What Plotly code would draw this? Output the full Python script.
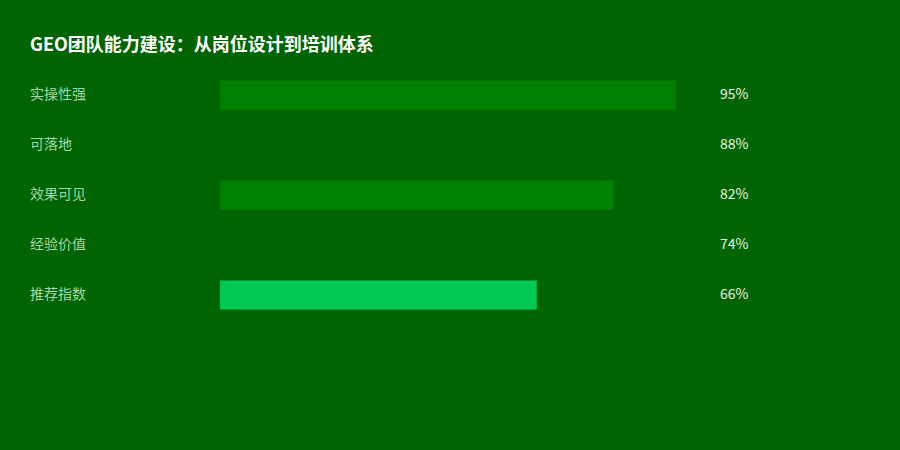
import plotly.graph_objects as go

# Data
categories = ["实操性强", "可落地", "效果可见", "经验价值", "推荐指数"]
values = [95, 88, 82, 74, 66]
bar_colors = ["#008000", "#006400", "#008000", "#006400", "#00C853"]

BG = "#006400"
FONT = "Noto Sans CJK SC, Noto Sans, sans-serif"

fig = go.Figure()

fig.add_trace(go.Bar(
    x=values,
    y=categories,
    orientation="h",
    marker=dict(color=bar_colors, line=dict(width=0)),
    width=0.58,
    hoverinfo="skip",
))

# left-side category labels and right-side percentages
for cat, val in zip(categories, values):
    fig.add_annotation(
        x=-192 / 480, y=cat, xref="paper", yref="y", yshift=2,
        text=cat, showarrow=False, xanchor="left", yanchor="middle",
        font=dict(family=FONT, size=14, color="#a5d6a7"),
    )
    fig.add_annotation(
        x=498 / 480, y=cat, xref="paper", yref="y", yshift=2,
        text=f"{val}%", showarrow=False, xanchor="left", yanchor="middle",
        font=dict(family=FONT, size=14, color="#e8f5e9"),
    )

fig.update_layout(
    width=900,
    height=450,
    paper_bgcolor=BG,
    plot_bgcolor=BG,
    showlegend=False,
    margin=dict(l=220, r=200, t=70, b=130),
    title=dict(
        text="<b>GEO团队能力建设：从岗位设计到培训体系</b>",
        x=30 / 900, xanchor="left", xref="container",
        y=1 - 45 / 450, yanchor="middle", yref="container",
        font=dict(family=FONT, size=18, color="#ffffff"),
    ),
)

fig.update_xaxes(range=[0, 100], visible=False, fixedrange=True)
fig.update_yaxes(
    categoryorder="array", categoryarray=categories, autorange="reversed",
    visible=False, fixedrange=True,
)

fig.write_html(
    "out.html",
    config={"displayModeBar": False},
    post_script="document.body.style.margin='0';",
)
